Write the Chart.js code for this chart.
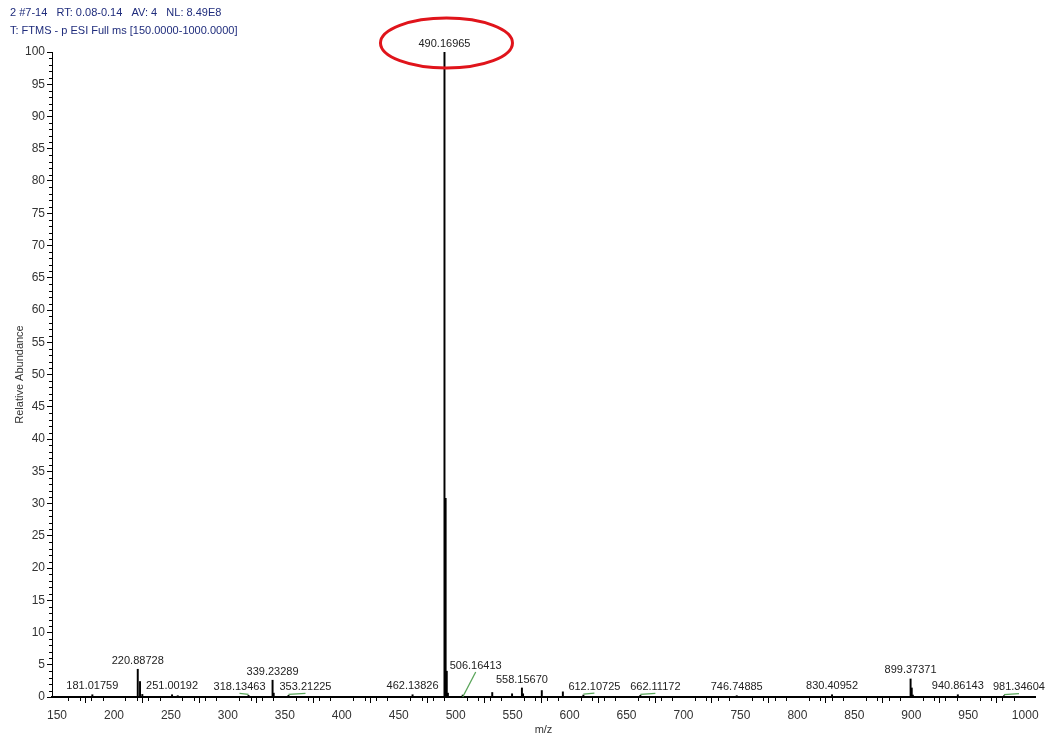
<!DOCTYPE html>
<html>
<head>
<meta charset="utf-8">
<script src="https://cdn.jsdelivr.net/npm/chart.js@4.4.1/dist/chart.umd.min.js"></script>
<style>
  html, body { margin: 0; padding: 0; background: #fff; }
  #wrap { width: 1047px; height: 737px; position: relative; }
</style>
</head>
<body>
<div id="wrap"><canvas id="spec"></canvas></div>
<script>
/* espectro de masas: picos (m/z, abundancia relativa) */

const peakMz = [
  181.01759, 220.88728, 222.885, 224.88, 251.00192, 256.0, 318.13463,
  339.23289, 340.24, 353.21225, 462.13826, 490.16965, 491.173, 492.17,
  493.17, 506.16413, 532.1, 549.5, 558.15670, 559.16, 575.6, 594.1,
  612.10725, 662.11172, 746.74885, 830.40952, 899.37371, 900.38, 901.38,
  940.86143, 981.34604
];
const peakAbundance = [
  0.35, 4.3, 2.4, 0.4, 0.35, 0.2, 0.25,
  2.6, 0.6, 0.25, 0.35, 100, 30.8, 4.0,
  0.6, 0.3, 0.7, 0.5, 1.4, 0.5, 1.0, 0.8,
  0.3, 0.25, 0.2, 0.35, 2.8, 1.4, 0.3,
  0.35, 0.2
];
const labelledMz = [
  181.01759, 220.88728, 251.00192, 318.13463, 339.23289, 353.21225,
  462.13826, 490.16965, 506.16413, 558.15670, 612.10725, 662.11172,
  746.74885, 830.40952, 899.37371, 940.86143, 981.34604
];
const xTickValues = [150, 200, 250, 300, 350, 400, 450, 500, 550, 600,
  650, 700, 750, 800, 850, 900, 950, 1000];
const yTickValues = [0, 5, 10, 15, 20, 25, 30, 35, 40, 45, 50,
  55, 60, 65, 70, 75, 80, 85, 90, 95, 100];

const headerLines = [
  '2 #7-14   RT: 0.08-0.14   AV: 4   NL: 8.49E8',
  'T: FTMS - p ESI Full ms [150.0000-1000.0000]'
];
const basePeakMz = 490.16965;

const FONT = '"Liberation Sans", Arial, sans-serif';

// desplazamientos de etiquetas (px) para evitar solapes, como hace Xcalibur
const labelNudge = {
  '318.13463': [-9, 0],
  '353.21225': [17, 0],
  '506.16413': [13, -21],
  '612.10725': [11, 0],
  '662.11172': [15, 0],
  '981.34604': [15, 0]
};

const header = {
  id: 'header',
  afterDraw(chart) {
    const ctx = chart.ctx;
    ctx.save();
    ctx.fillStyle = '#1f2c7c';
    ctx.font = '11px ' + FONT;
    ctx.textBaseline = 'middle';
    ctx.textAlign = 'left';
    headerLines.forEach((t, i) => ctx.fillText(t, 10, 13 + i * 18));
    ctx.restore();
  }
};

const minorTicks = {
  id: 'minorTicks',
  afterDraw(chart) {
    const { ctx, chartArea } = chart;
    const xs = chart.scales.x, ys = chart.scales.y;
    ctx.save();
    ctx.strokeStyle = '#000';
    ctx.lineWidth = 1;
    ctx.beginPath();
    for (let v = 150; v <= 1000; v += 10) {
      if (v % 50 === 0) continue;
      const px = Math.round(xs.getPixelForValue(v)) + 0.5;
      ctx.moveTo(px, chartArea.bottom);
      ctx.lineTo(px, chartArea.bottom + 4);
    }
    for (let v = 0; v <= 100; v += 1) {
      if (v % 5 === 0) continue;
      const py = Math.round(ys.getPixelForValue(v)) + 0.5;
      ctx.moveTo(chartArea.left, py);
      ctx.lineTo(chartArea.left - 3, py);
    }
    ctx.stroke();
    ctx.restore();
  }
};

const peakLabels = {
  id: 'peakLabels',
  afterDatasetsDraw(chart) {
    const ctx = chart.ctx;
    const xs = chart.scales.x, ys = chart.scales.y;
    ctx.save();
    ctx.font = '11px ' + FONT;
    ctx.textAlign = 'center';
    ctx.textBaseline = 'bottom';
    labelledMz.forEach(mz => {
      const i = peakMz.indexOf(mz);
      const key = mz.toFixed(5);
      const px = xs.getPixelForValue(mz);
      const py = ys.getPixelForValue(peakAbundance[i]);
      const [dx, dy] = labelNudge[key] || [0, 0];
      const lx = px + dx, ly = py - 3 + dy;
      if (dx || dy) {
        ctx.strokeStyle = '#5aa55a';
        ctx.lineWidth = 1.3;
        ctx.beginPath();
        if (dy) {
          ctx.moveTo(lx, ly + 1);
          ctx.lineTo(px, chart.chartArea.bottom);
        } else {
          ctx.moveTo(px, py - 1);
          ctx.lineTo(lx, py - 2);
        }
        ctx.stroke();
      }
      ctx.fillStyle = '#222';
      ctx.fillText(key, lx, ly);
      if (mz === basePeakMz) {
        ctx.strokeStyle = '#e0141b';
        ctx.lineWidth = 3;
        ctx.beginPath();
        ctx.ellipse(lx + 2, ly - 6, 66, 25, 0, 0, Math.PI * 2);
        ctx.stroke();
      }
    });
    ctx.restore();
  }
};

new Chart(document.getElementById('spec'), {
  type: 'bar',
  data: {
    datasets: [{
      data: peakMz.map((x, i) => ({ x, y: peakAbundance[i] })),
      backgroundColor: '#000',
      borderWidth: 0,
      barThickness: 1.3
    }]
  },
  options: {
    responsive: true,
    maintainAspectRatio: false,
    animation: false,
    layout: { padding: { left: 13, right: 12, top: 52, bottom: 0 } },
    plugins: {
      legend: { display: false },
      tooltip: { enabled: false }
    },
    scales: {
      x: {
        type: 'linear',
        min: 145.6,
        max: 1008.6,
        offset: false,
        afterBuildTicks: s => { s.ticks = xTickValues.map(v => ({ value: v })); },
        afterFit: s => { s.height = 40; },
        border: { display: true, color: '#000', width: 2 },
        grid: { drawOnChartArea: false, drawTicks: true, tickLength: 6, color: '#000', tickColor: '#000' },
        ticks: {
          color: '#333', font: { family: FONT, size: 12 }, padding: 5, maxRotation: 0, autoSkip: false,
          callback: v => String(v)
        },
        title: { display: true, text: 'm/z', color: '#333', font: { family: FONT, size: 11 }, padding: { top: 0, bottom: 0 } }
      },
      y: {
        min: 0,
        max: 100,
        afterBuildTicks: s => { s.ticks = yTickValues.map(v => ({ value: v })); },
        afterFit: s => { s.width = 39; },
        border: { display: true, color: '#000', width: 1 },
        grid: { drawOnChartArea: false, drawTicks: true, tickLength: 5, color: '#000', tickColor: '#000' },
        ticks: { color: '#333', font: { family: FONT, size: 12 }, padding: 2, autoSkip: false, callback: v => String(v) },
        title: { display: true, text: 'Relative Abundance', color: '#333', font: { family: FONT, size: 11 }, padding: { top: 0, bottom: 2 } }
      }
    }
  },
  plugins: [header, minorTicks, peakLabels]
});
</script>
</body>
</html>
